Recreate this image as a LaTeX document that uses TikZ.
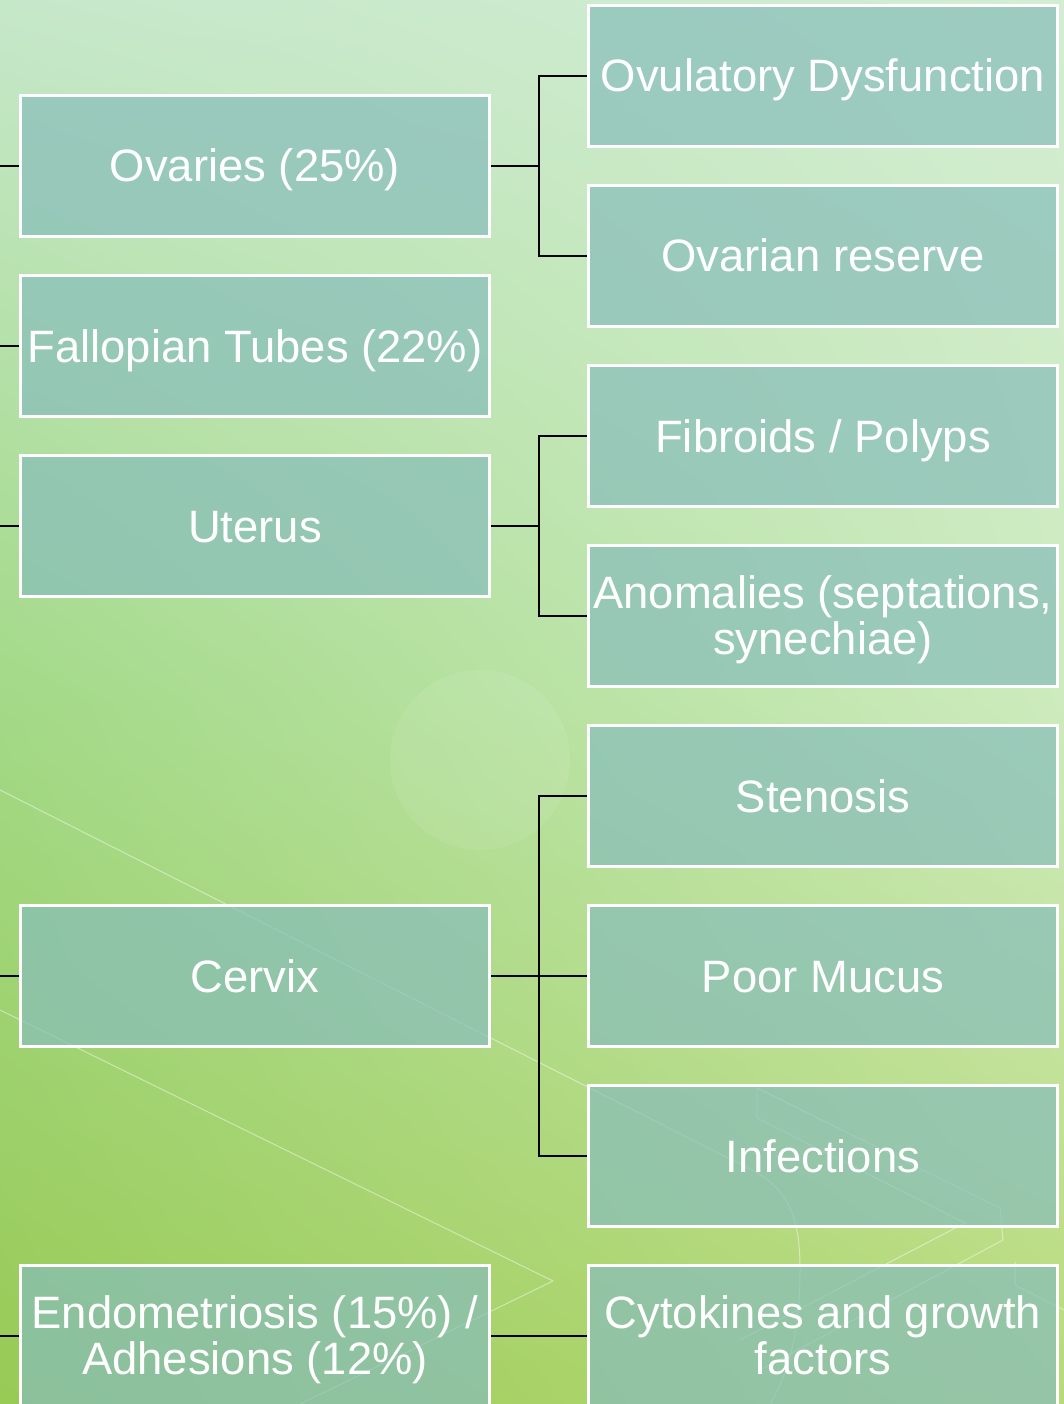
\documentclass[tikz,border=0pt]{standalone}
\usepackage{fontspec}
\setmainfont{Liberation Sans}
\usetikzlibrary{shadings}

\definecolor{bgA}{RGB}{198,232,202}
\definecolor{bgB}{RGB}{210,237,210}
\definecolor{bgC}{RGB}{163,217,135}
\definecolor{bgD}{RGB}{205,235,190}
\definecolor{bgE}{RGB}{152,202,85}
\definecolor{bgF}{RGB}{185,218,120}
\definecolor{boxteal}{RGB}{135,189,186}

\tikzset{
  cause/.style={draw=white,line width=3pt,fill=boxteal,fill opacity=0.7,text opacity=1,
    text=white,rectangle,minimum width=469pt,minimum height=141pt,inner sep=0pt,
    align=center,font=\fontsize{45.4}{46}\selectfont,text height=32pt,text depth=0pt},
  twoline/.style={text height=80pt,text depth=4pt},
  link/.style={draw=black,line width=1.8pt},
  deco/.style={draw=white,line width=1pt,opacity=0.45,line join=round},
}

\begin{document}
\begin{tikzpicture}[x=1pt,y=-1pt]

  \useasboundingbox (0,0) rectangle (1064,1404);

  % background
  \shade [upper left=bgA,upper right=bgB,lower left=bgC,lower right=bgD] (0,0) rectangle (1064,700);
  \shade [upper left=bgC,upper right=bgD,lower left=bgE,lower right=bgF] (0,700) rectangle (1064,1404);
  \fill [white,opacity=0.08] (480,760) circle (90);

  \path [deco] (0,790) -- (752,1170) .. controls (790,1190) and (800,1220) .. (800,1270)
    .. controls (800,1330) and (790,1370) .. (770,1404);
  \path [deco] (0,1010) -- (553,1281) -- (300,1404);
  \path [deco] (757,1118) -- (965,1223) -- (740,1340);
  \path [deco] (757,1118) -- (757,1088) -- (1000,1208) -- (1003,1240) -- (760,1370);
  \path [deco] (1015,1262) -- (1015,1285) -- (1064,1310);

  \coordinate (edge) at (0,0);

  % first level
  \node [cause] (ovaries) at (255,166)  {Ovaries (25\%)};
  \node [cause] (tubes)   at (255,346)  {Fallopian Tubes (22\%)};
  \node [cause] (uterus)  at (255,526)  {Uterus};
  \node [cause] (cervix)  at (255,976)  {Cervix};
  \node [cause,twoline] (endo) at (255,1336) {Endometriosis (15\%) /\\Adhesions (12\%)};

  % second level
  \node [cause] (ovul)       at (823,76)   {Ovulatory Dysfunction};
  \node [cause] (reserve)    at (823,256)  {Ovarian reserve};
  \node [cause] (fibroids)   at (823,436)  {Fibroids / Polyps};
  \node [cause,twoline] (anomalies) at (823,616) {Anomalies (septations,\\synechiae)};
  \node [cause] (stenosis)   at (823,796)  {Stenosis};
  \node [cause] (mucus)      at (823,976)  {Poor Mucus};
  \node [cause] (infections) at (823,1156) {Infections};
  \node [cause,twoline] (cytokines) at (823,1336) {Cytokines and growth\\factors};

  \path [link]
    (ovaries.west) -- (ovaries.west -| edge)
    (tubes.west)   -- (tubes.west -| edge)
    (uterus.west)  -- (uterus.west -| edge)
    (cervix.west)  -- (cervix.west -| edge)
    (endo.west)    -- (endo.west -| edge);

  \path [link]
    (ovaries.east) -- ++(48,0) |- (ovul.west)
    (ovaries.east) -- ++(48,0) |- (reserve.west)
    (uterus.east)  -- ++(48,0) |- (fibroids.west)
    (uterus.east)  -- ++(48,0) |- (anomalies.west)
    (cervix.east)  -- ++(48,0) |- (stenosis.west)
    (cervix.east)  -- (mucus.west)
    (cervix.east)  -- ++(48,0) |- (infections.west)
    (endo.east)    -- (cytokines.west);

\end{tikzpicture}
\end{document}
